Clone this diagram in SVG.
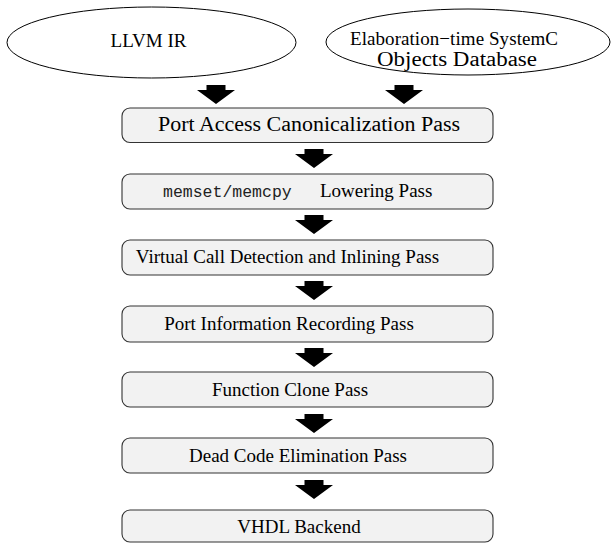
<svg xmlns="http://www.w3.org/2000/svg" width="611" height="543" viewBox="0 0 611 543">
  <defs>
    <style>
      .src { fill: #ffffff; stroke: #000000; stroke-width: 1; }
      .pass { fill: #f2f2f2; stroke: #333333; stroke-width: 1.1; }
      .lbl { font-family: "Liberation Serif", "Times New Roman", serif; font-size: 19px; fill: #000000; }
      .mono { font-family: "Liberation Mono", "Courier New", monospace; font-size: 16.5px; fill: #222222; }
      .arrow { fill: #000000; }
    </style>
    <!-- block arrow pointing down, origin at top-center -->
    <polygon id="blk" points="-9.5,0 9.5,0 9.5,5 19,5 0,19 -19,5 -9.5,5"/>
  </defs>

  <rect width="611" height="543" fill="#ffffff"/>

  <!-- inputs -->
  <g id="llvm-ir">
    <ellipse class="src" cx="151.5" cy="42.5" rx="144.5" ry="35.5"/>
    <text class="lbl" x="148.5" y="47" text-anchor="middle">LLVM IR</text>
  </g>
  <g id="systemc-db">
    <ellipse class="src" cx="468" cy="42" rx="142" ry="33"/>
    <text class="lbl" x="350" y="45" textLength="208">Elaboration−time SystemC</text>
    <text class="lbl" x="377" y="66" textLength="160" lengthAdjust="spacingAndGlyphs" style="font-size:20px">Objects Database</text>
  </g>

  <!-- passes -->
  <g id="port-access">
    <rect class="pass" x="122" y="108" width="371" height="34.5" rx="8"/>
    <text class="lbl" x="158" y="131" textLength="302" lengthAdjust="spacingAndGlyphs" style="font-size:20px">Port Access Canonicalization Pass</text>
  </g>
  <g id="mem-lowering">
    <rect class="pass" x="122" y="174" width="371" height="35" rx="8"/>
    <text class="mono" x="163" y="197">memset/memcpy</text>
    <text class="lbl" x="320" y="197">Lowering Pass</text>
  </g>
  <g id="virtual-call">
    <rect class="pass" x="122" y="240" width="371" height="35" rx="8"/>
    <text class="lbl" x="287.5" y="263" text-anchor="middle">Virtual Call Detection and Inlining Pass</text>
  </g>
  <g id="port-info">
    <rect class="pass" x="122" y="306" width="371" height="36" rx="8"/>
    <text class="lbl" x="289" y="330" text-anchor="middle">Port Information Recording Pass</text>
  </g>
  <g id="function-clone">
    <rect class="pass" x="122" y="372" width="371" height="35" rx="8"/>
    <text class="lbl" x="290" y="396" text-anchor="middle">Function Clone Pass</text>
  </g>
  <g id="dead-code">
    <rect class="pass" x="122" y="438" width="371" height="35" rx="8"/>
    <text class="lbl" x="298" y="462" text-anchor="middle">Dead Code Elimination Pass</text>
  </g>
  <g id="vhdl-backend">
    <rect class="pass" x="122" y="510" width="371" height="32" rx="8"/>
    <text class="lbl" x="299" y="533" text-anchor="middle">VHDL Backend</text>
  </g>

  <!-- connectors -->
  <g id="connectors" class="arrow">
    <use href="#blk" x="216" y="85"/>
    <use href="#blk" x="404" y="85"/>
    <use href="#blk" x="314" y="149"/>
    <use href="#blk" x="314" y="215"/>
    <use href="#blk" x="314" y="281"/>
    <use href="#blk" x="314" y="348"/>
    <use href="#blk" x="314" y="414"/>
    <use href="#blk" x="314" y="480"/>
  </g>
</svg>
